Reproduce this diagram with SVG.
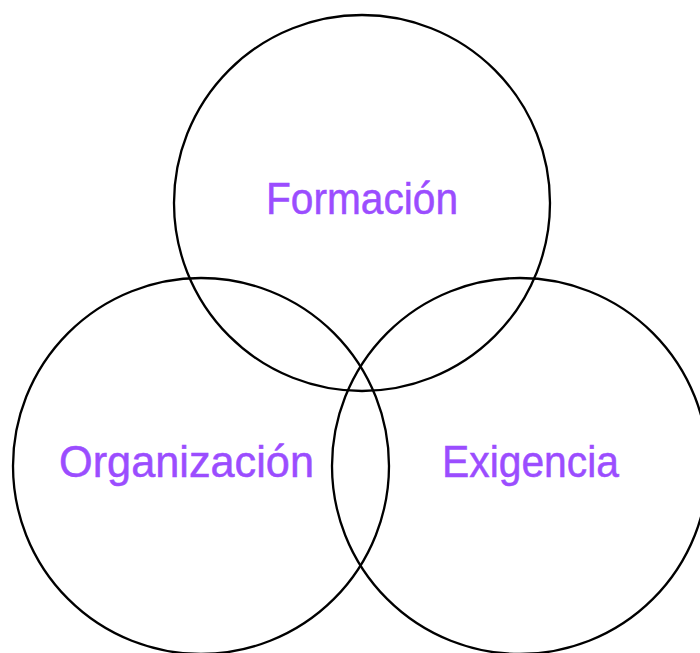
<svg xmlns="http://www.w3.org/2000/svg" width="700" height="653" viewBox="0 0 700 653">
<style>
.c{fill:none;stroke:#000;stroke-width:2.3}
.t{font-family:"Liberation Sans",Arial,sans-serif;font-size:44px;fill:#9B4DFF;stroke:#9B4DFF;stroke-width:0.5;text-anchor:middle}
</style>
<rect width="700" height="653" fill="#fff"/>
<g id="formacion"><circle class="c" cx="362" cy="203" r="188"/><text class="t" x="362" y="214" textLength="192" lengthAdjust="spacingAndGlyphs">Formación</text></g>
<g id="organizacion"><circle class="c" cx="201" cy="466" r="188"/><text class="t" x="186.5" y="477" textLength="255" lengthAdjust="spacingAndGlyphs">Organización</text></g>
<g id="exigencia"><circle class="c" cx="520" cy="466" r="188"/><text class="t" x="530.5" y="477" textLength="177" lengthAdjust="spacingAndGlyphs">Exigencia</text></g>
<g id="connectors"/>
</svg>
